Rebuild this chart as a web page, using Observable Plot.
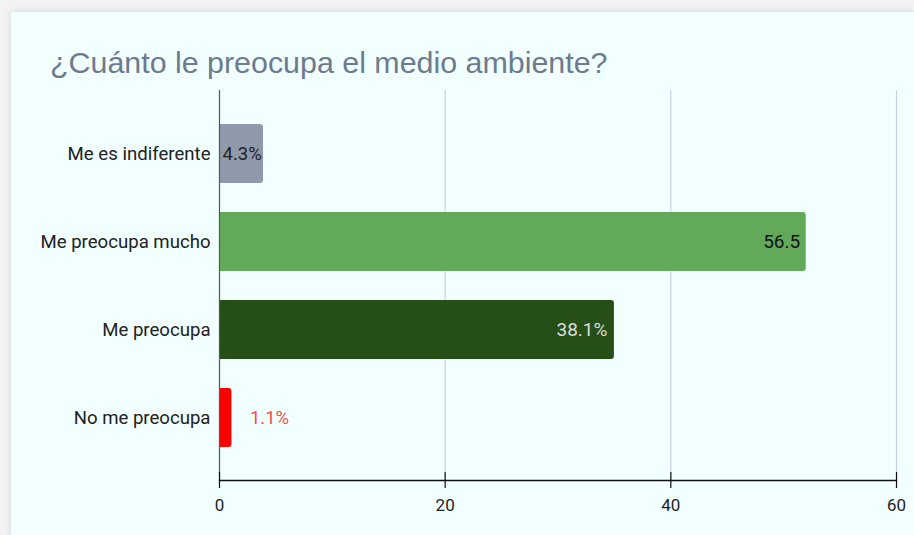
<!DOCTYPE html>
<html>
<head>
<meta charset="utf-8">
<script src="https://cdn.jsdelivr.net/npm/d3@7"></script>
<script src="https://cdn.jsdelivr.net/npm/@observablehq/plot@0.6"></script>
<style>
  html, body { margin: 0; padding: 0; width: 914px; height: 535px; overflow: hidden; background: #f3f3f3; }
  #card {
    position: absolute; left: 11px; top: 12px; width: 903px; height: 523px;
    background: #f1ffff; box-shadow: 0 0 7px rgba(0,0,0,0.13);
  }
  #title {
    position: relative; height: 66px;
  }
  #title span {
    position: absolute; left: 39px; top: 35px; line-height: 30px;
    font-family: "Liberation Sans", Arial, sans-serif; font-size: 30.4px; color: #6d7a8f; white-space: nowrap;
  }
  #chart svg { display: block; }
</style>
</head>
<body>
<div id="card">
  <div id="title"><span>¿Cuánto le preocupa el medio ambiente?</span></div>
  <div id="chart"></div>
</div>
<script>
// Data
const categories = ["Me es indiferente", "Me preocupa mucho", "Me preocupa", "No me preocupa"];
const barValues = [3.9, 52.0, 35.0, 1.1];           // bar lengths on the x axis
const barLabels = ["4.3%", "56.5", "38.1%", "1.1%"]; // labels printed on the bars
const xTicks = [0, 20, 40, 60];
const barColors = ["#8f99a9", "#62aa5a", "#254f16", "#ff0000"];

const data = categories.map((c, i) => ({cat: c, value: barValues[i], label: barLabels[i]}));
const byCat = c => data.filter(d => d.cat === c);

const W = 903, H = 458;
const mL = 208, mR = 18, mT = 12, mB = 56;
const innerH = H - mT - mB;

const chart = Plot.plot({
  width: W,
  height: H,
  marginLeft: mL,
  marginRight: mR,
  marginTop: mT,
  marginBottom: mB,
  style: {background: "transparent", fontFamily: "Roboto, sans-serif", fontSize: "18px", color: "#222"},
  x: {domain: [0, 60], axis: null},
  y: {domain: categories, paddingInner: 0.335, paddingOuter: 0.36, axis: null},
  color: {domain: categories, range: barColors},
  marks: [
    Plot.gridX(xTicks.filter(t => t > 0), {stroke: "#c6d1e5", strokeOpacity: 1, strokeWidth: 1.2}),
    // square left part of each bar
    Plot.barX(data, {x1: 0, x2: d => d.value / 2, y: "cat", fill: "cat"}),
    // rounded full bar
    Plot.barX(data, {x1: 0, x2: "value", y: "cat", fill: "cat", rx: 3}),
    Plot.ruleX([0], {stroke: "#555", strokeWidth: 1.2}),
    Plot.frame({anchor: "bottom", stroke: "#111", strokeWidth: 1.3}),
    Plot.ruleX(xTicks, {stroke: "#111", strokeWidth: 1.2, insetTop: innerH - 8}),
    Plot.axisX({ticks: xTicks, tickSize: 8, tickPadding: 10, fontSize: 17, fill: "#222", stroke: "#111", strokeWidth: 1.2, label: null}),
    Plot.axisY({tickSize: 0, tickPadding: 9, fontSize: 18.6, fill: "#222", label: null}),
    // bar labels
    Plot.text(byCat("Me es indiferente"), {x: 0, y: "cat", text: "label", textAnchor: "start", dx: 3, fill: "#222", fontSize: 18.5}),
    Plot.text(byCat("Me preocupa mucho"), {x: "value", y: "cat", text: "label", textAnchor: "end", dx: -6, fill: "#111", fontSize: 19}),
    Plot.text(byCat("Me preocupa"), {x: "value", y: "cat", text: "label", textAnchor: "end", dx: -7, fill: "#dcdcdc", fontSize: 19}),
    Plot.text(byCat("No me preocupa"), {x: "value", y: "cat", text: "label", textAnchor: "start", dx: 18, fill: "#ff4a4a", fontSize: 18.5})
  ]
});
document.getElementById("chart").appendChild(chart);
</script>
</body>
</html>
